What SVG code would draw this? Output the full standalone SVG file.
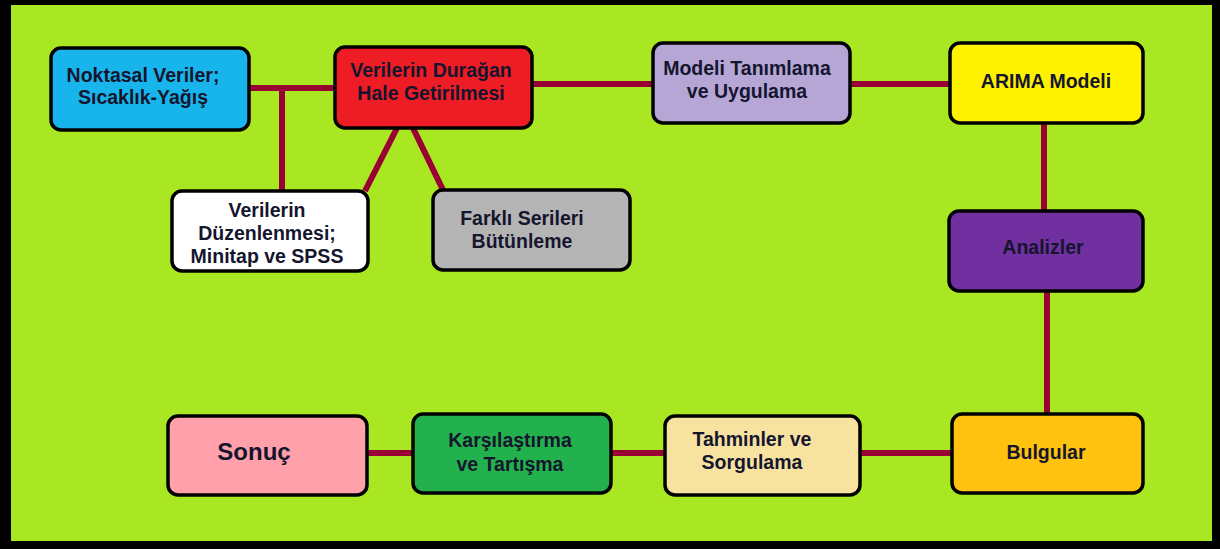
<svg xmlns="http://www.w3.org/2000/svg" width="1220" height="549" viewBox="0 0 1220 549">
<style>
.box{stroke:#000;stroke-width:3.5}
.t{font-family:"Liberation Sans",Arial,sans-serif;font-weight:bold;font-size:19.5px;fill:#15152e;text-anchor:middle}
.big{font-size:24px}
.c{stroke:#990033;stroke-width:6;fill:none}
</style>
<rect x="0" y="0" width="1220" height="549" fill="#000"/>
<rect x="11" y="5" width="1201" height="536" fill="#a9e723"/>
<g id="connectors">
<path class="c" d="M249 88H335"/>
<path class="c" d="M282 88V191"/>
<path class="c" d="M397 128L365 191"/>
<path class="c" d="M413 128L443 190"/>
<path class="c" d="M532 84H653"/>
<path class="c" d="M850 84H950"/>
<path class="c" d="M1044 123V211"/>
<path class="c" d="M1047 291V414"/>
<path class="c" d="M860 453H952"/>
<path class="c" d="M611 453H665"/>
<path class="c" d="M367 453H413"/>
</g>
<g id="n-noktasal"><rect class="box" x="51" y="48" width="198" height="82" rx="10" fill="#18b4ec"/><text class="t" x="143" y="82">Noktasal Veriler;</text><text class="t" x="143" y="104">Sıcaklık-Yağış</text></g>
<g id="n-duragan"><rect class="box" x="335" y="47" width="197" height="81" rx="10" fill="#ee1c24"/><text class="t" x="431" y="77">Verilerin Durağan</text><text class="t" x="431" y="100">Hale Getirilmesi</text></g>
<g id="n-modeli"><rect class="box" x="653" y="43" width="197" height="80" rx="10" fill="#b5a6d6"/><text class="t" x="747" y="75">Modeli Tanımlama</text><text class="t" x="747" y="98">ve Uygulama</text></g>
<g id="n-arima"><rect class="box" x="950" y="43" width="193" height="80" rx="10" fill="#fff200"/><text class="t" x="1046" y="88">ARIMA Modeli</text></g>
<g id="n-analizler"><rect class="box" x="949" y="211" width="194" height="80" rx="10" fill="#7030a0"/><text class="t" x="1043" y="254">Analizler</text></g>
<g id="n-duzenleme"><rect class="box" x="172" y="191" width="196" height="80" rx="10" fill="#fff"/><text class="t" x="267" y="217">Verilerin</text><text class="t" x="267" y="240">Düzenlenmesi;</text><text class="t" x="267" y="263">Minitap ve SPSS</text></g>
<g id="n-farkli"><rect class="box" x="433" y="190" width="197" height="80" rx="10" fill="#b4b4b4"/><text class="t" x="522" y="225">Farklı Serileri</text><text class="t" x="522" y="248">Bütünleme</text></g>
<g id="n-sonuc"><rect class="box" x="168" y="416" width="199" height="79" rx="10" fill="#ffa0aa"/><text class="t big" x="254" y="460">Sonuç</text></g>
<g id="n-karsilastirma"><rect class="box" x="413" y="414" width="198" height="79" rx="10" fill="#22b14c"/><text class="t" x="510" y="447">Karşılaştırma</text><text class="t" x="510" y="471">ve Tartışma</text></g>
<g id="n-tahminler"><rect class="box" x="665" y="416" width="195" height="79" rx="10" fill="#f7e2a0"/><text class="t" x="752" y="446">Tahminler ve</text><text class="t" x="752" y="469">Sorgulama</text></g>
<g id="n-bulgular"><rect class="box" x="952" y="414" width="191" height="79" rx="10" fill="#ffc20e"/><text class="t" x="1046" y="459">Bulgular</text></g>
</svg>
